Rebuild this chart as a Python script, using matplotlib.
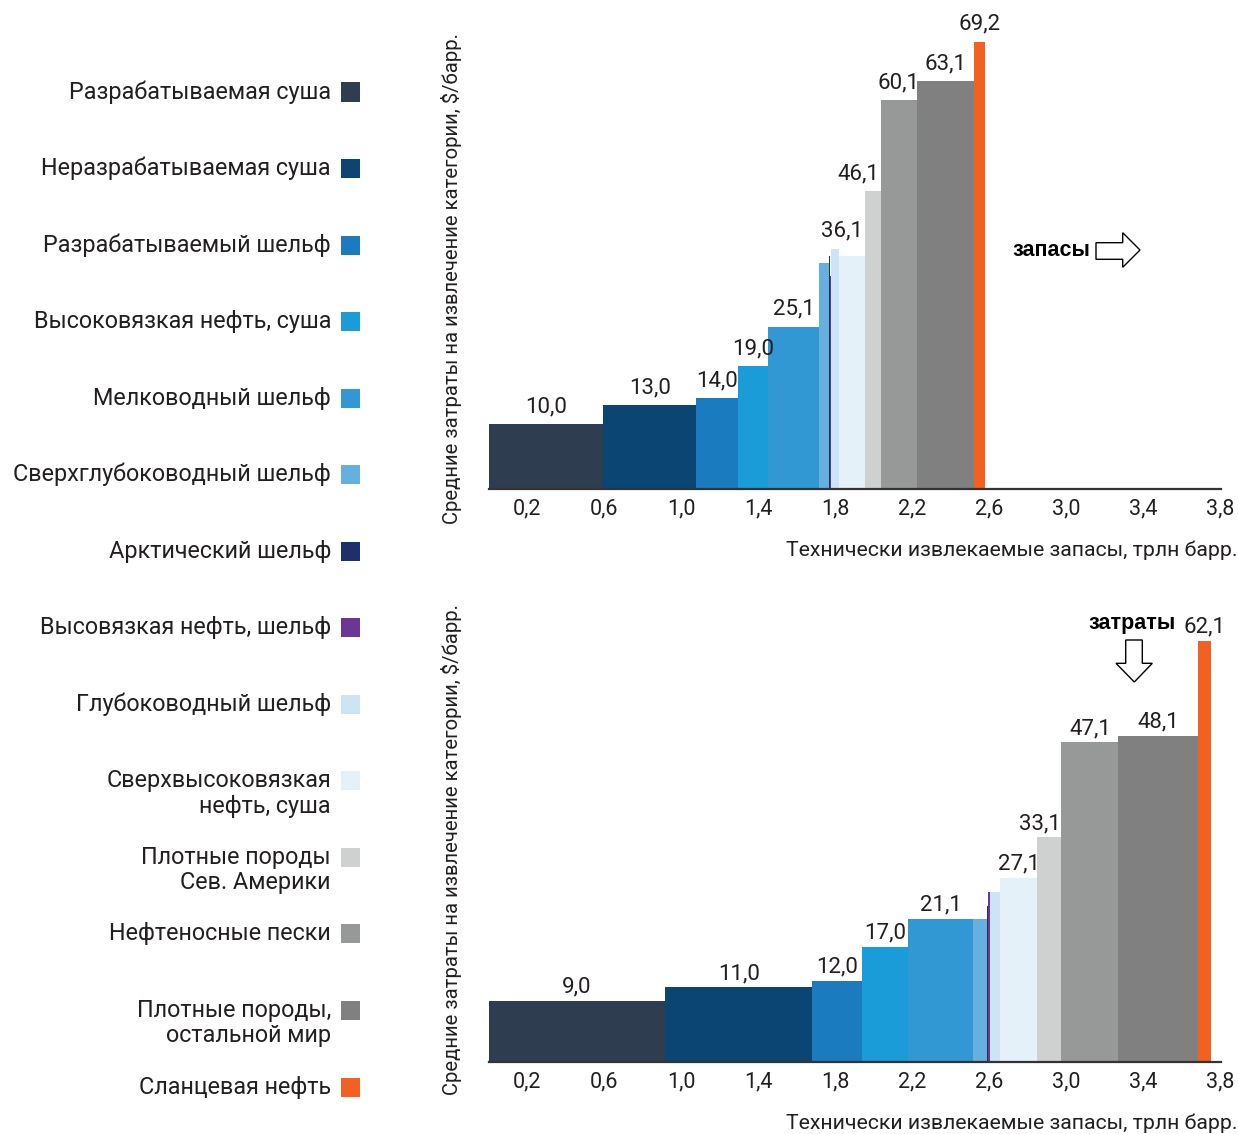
import numpy as np
import matplotlib
matplotlib.use('Agg')
import matplotlib.pyplot as plt
from matplotlib.patches import Rectangle, Polygon

W, H = 1238, 1134

# категории (порядок столбцов слева направо)
categories = [
    "Разрабатываемая суша",
    "Неразрабатываемая суша",
    "Разрабатываемый шельф",
    "Высоковязкая нефть, суша",
    "Мелководный шельф",
    "Сверхглубоководный шельф",
    "Арктический шельф",
    "Высовязкая нефть, шельф",
    "Глубоководный шельф",
    "Сверхвысоковязкая\nнефть, суша",
    "Плотные породы\nСев. Америки",
    "Нефтеносные пески",
    "Плотные породы,\nостальной мир",
    "Сланцевая нефть",
]
colors = ["#2e3e50", "#0b4574", "#1a7bbf", "#1a9cd8", "#3198d3", "#66b0de",
          "#1f2f6b", "#6a3795", "#cce4f4", "#e4f1f9", "#cfd0d0", "#979898",
          "#808080", "#f26122"]

# верхний график: запасы (трлн барр.) и затраты ($/барр.)
reserves_top = [0.595, 0.483, 0.218, 0.156, 0.265, 0.052, 0.005, 0.006,
                0.042, 0.130, 0.083, 0.192, 0.291, 0.062]
costs_top = [10.0, 13.0, 14.0, 19.0, 25.1, 35.0, 36.1, 33.0,
             37.1, 36.1, 46.1, 60.1, 63.1, 69.2]

# нижний график
reserves_bottom = [0.917, 0.764, 0.259, 0.239, 0.338, 0.071, 0.005, 0.012,
                   0.052, 0.192, 0.125, 0.296, 0.411, 0.072]
costs_bottom = [9.0, 11.0, 12.0, 17.0, 21.1, 21.1, 23.0, 25.1,
                25.1, 27.1, 33.1, 47.1, 48.1, 62.1]

# у каких столбцов подписывается значение
labelled = [True, True, True, True, True, False, False, False,
            False, True, True, True, True, True]

xticks = [0.2, 0.6, 1.0, 1.4, 1.8, 2.2, 2.6, 3.0, 3.4, 3.8]

TXT = "#231f20"
plt.rcParams['font.family'] = ['Roboto', 'DejaVu Sans']


def fx(x):
    return x / W


def fy(y):
    return 1 - y / H


def draw_curve(ax, widths, values, nudges, lift):
    lefts = np.concatenate([[0], np.cumsum(widths)[:-1]])
    ax.bar(lefts, values, width=widths, align='edge', color=colors,
           linewidth=0)
    for i, (l, w, v) in enumerate(zip(lefts, widths, values)):
        if not labelled[i]:
            continue
        dx, dy = nudges.get(i, (0, 0))
        ax.annotate(f"{v:.1f}".replace('.', ','), xy=(l + w / 2, v),
                    xytext=(dx, lift + dy), textcoords='offset points',
                    ha='center', va='baseline', fontsize=16, color=TXT)
    ax.set_xlim(0, 3.8)
    ax.set_xticks(xticks)
    ax.set_xticklabels([f"{t:.1f}".replace('.', ',') for t in xticks])
    ax.tick_params(axis='x', length=0, pad=7, labelsize=15.5, labelcolor=TXT)
    ax.set_yticks([])
    for s in ['left', 'right', 'top']:
        ax.spines[s].set_visible(False)
    ax.spines['bottom'].set_color('#333333')
    ax.spines['bottom'].set_linewidth(1.6)


fig = plt.figure(figsize=(W / 100, H / 100), dpi=100)

ax1 = fig.add_axes([fx(488.5), fy(489), fx(1220.5) - fx(488.5), (489 - 4) / H])
draw_curve(ax1, reserves_top, costs_top, {9: (-7, 5), 10: (-10, 0)}, 8.5)
ax1.set_ylim(0, 75)

ax2 = fig.add_axes([fx(488.5), fy(1062), fx(1220.5) - fx(488.5), (1062 - 587) / H])
draw_curve(ax2, reserves_bottom, costs_bottom, {10: (-7, 0)}, 6)
ax2.set_ylim(0, 70)

# подписи осей
ylab = "Средние затраты на извлечение категории, $/барр."
xlab = "Технически извлекаемые запасы, трлн барр."
for yc in (279, 850):
    fig.text(fx(452), fy(yc), ylab, rotation=90, ha='center', va='center',
             fontsize=14.6, color=TXT)
for yc in (550, 1123):
    fig.text(fx(1237), fy(yc), xlab, ha='right', va='center',
             fontsize=15.3, color=TXT)

# легенда
for i, (name, c) in enumerate(zip(categories, colors)):
    yc = 92 + i * 76.54
    for j, line in enumerate(name.split('\n')):
        fig.text(fx(331), fy(yc + j * 25.5), line, ha='right',
                 va='center', fontsize=16.8, color=TXT)
    fig.patches.append(Rectangle((fx(341), fy(yc + 9.5)), 19 / W, 19 / H,
                                 transform=fig.transFigure, color=c,
                                 linewidth=0))

# стрелки-пояснения
fig.text(fx(1090), fy(251), "запасы", ha='right', va='center', fontsize=15.5,
         fontweight='bold', family='Liberation Sans', color='black')
right_arrow = [(1096, 242.7), (1122.7, 242.7), (1122.7, 232.7), (1140, 250),
               (1122.7, 267.3), (1122.7, 259.3), (1096, 259.3)]
fig.patches.append(Polygon([(fx(x), fy(y)) for x, y in right_arrow],
                           closed=True, transform=fig.transFigure,
                           facecolor='white', edgecolor='black', linewidth=1))

fig.text(fx(1176), fy(623), "затраты", ha='right', va='center', fontsize=15.5,
         fontweight='bold', family='Liberation Sans', color='black')
down_arrow = [(1125.7, 640), (1142.3, 640), (1142.3, 663.3), (1152.3, 663.3),
              (1134.3, 682), (1116, 663.3), (1125.7, 663.3)]
fig.patches.append(Polygon([(fx(x), fy(y)) for x, y in down_arrow],
                           closed=True, transform=fig.transFigure,
                           facecolor='white', edgecolor='black', linewidth=1))

fig.savefig('out.png', dpi=100)
